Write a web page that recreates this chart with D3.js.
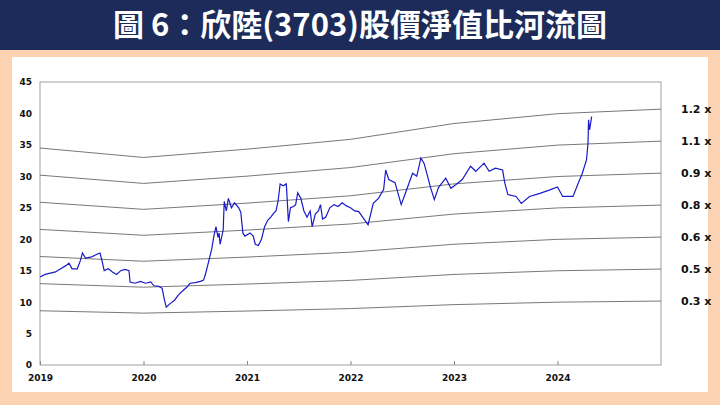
<!DOCTYPE html>
<html lang="zh-Hant">
<head>
<meta charset="utf-8">
<script src="https://cdn.jsdelivr.net/npm/d3@7"></script>
<style>
  body { margin: 0; background: #fbd3b2; }
  svg { display: block; }
</style>
</head>
<body>
<script>
  // Price (decimal year, close)
  var priceDates = [2019.00, 2019.05, 2019.10, 2019.15, 2019.20, 2019.25, 2019.28, 2019.31, 2019.36, 2019.39, 2019.41, 2019.44, 2019.50, 2019.55, 2019.58, 2019.60, 2019.62, 2019.66, 2019.70, 2019.74, 2019.78, 2019.82, 2019.86, 2019.87, 2019.92, 2019.97,
    2020.02, 2020.07, 2020.10, 2020.15, 2020.18, 2020.20, 2020.22, 2020.26, 2020.30, 2020.34, 2020.38, 2020.42, 2020.45, 2020.50, 2020.55, 2020.58, 2020.60, 2020.63, 2020.66, 2020.68, 2020.70, 2020.72, 2020.73, 2020.74, 2020.77, 2020.78, 2020.80, 2020.82, 2020.85, 2020.88, 2020.92, 2020.94, 2020.96, 2020.98,
    2021.03, 2021.06, 2021.08, 2021.11, 2021.14, 2021.17, 2021.20, 2021.23, 2021.26, 2021.28, 2021.30, 2021.32, 2021.35, 2021.38, 2021.40, 2021.42, 2021.45, 2021.47, 2021.49, 2021.52, 2021.55, 2021.58, 2021.61, 2021.63, 2021.66, 2021.69, 2021.71, 2021.73, 2021.76, 2021.80, 2021.84, 2021.88, 2021.92, 2021.96,
    2022.00, 2022.04, 2022.08, 2022.17, 2022.22, 2022.27, 2022.32, 2022.34, 2022.37, 2022.43, 2022.49, 2022.53, 2022.60, 2022.64, 2022.68, 2022.71, 2022.74, 2022.77, 2022.81, 2022.85, 2022.92, 2022.97,
    2023.02, 2023.08, 2023.16, 2023.21, 2023.29, 2023.34, 2023.40, 2023.47, 2023.49, 2023.52, 2023.60, 2023.65, 2023.73, 2023.83, 2023.92,
    2024.00, 2024.05, 2024.15, 2024.20, 2024.24, 2024.28, 2024.295, 2024.30, 2024.31, 2024.33];
  var priceValues = [14.0, 14.4, 14.6, 14.8, 15.3, 15.8, 16.2, 15.3, 15.3, 16.6, 17.8, 17.0, 17.2, 17.6, 17.8, 16.5, 15.0, 15.3, 14.8, 14.4, 15.0, 15.2, 15.0, 13.2, 13.0, 13.3,
    13.0, 13.2, 12.6, 12.5, 12.2, 10.5, 9.2, 9.8, 10.3, 11.2, 11.8, 12.4, 13.0, 13.1, 13.3, 13.5, 14.5, 16.5, 18.5, 20.5, 22.0, 20.3, 21.0, 19.2, 21.5, 26.0, 24.5, 26.5, 25.0, 25.8, 25.0, 24.3, 21.0, 20.5,
    21.0, 20.5, 19.2, 19.0, 20.0, 22.0, 23.0, 23.5, 24.2, 24.5, 26.0, 28.8, 28.5, 28.8, 22.8, 25.0, 25.2, 25.5, 27.4, 26.5, 24.5, 23.5, 24.5, 22.0, 24.0, 24.5, 25.5, 23.2, 23.5, 25.0, 25.5, 25.2, 25.8, 25.3,
    25.0, 24.5, 24.4, 22.3, 25.7, 26.5, 27.9, 31.0, 29.5, 29.0, 25.5, 27.3, 30.5, 30.0, 32.9, 32.1, 30.3, 28.4, 26.3, 28.2, 29.7, 28.1,
    28.7, 29.5, 31.6, 30.8, 32.1, 30.8, 31.3, 31.0, 29.0, 27.1, 26.8, 25.7, 26.8, 27.3, 27.8,
    28.3, 26.8, 26.8, 28.9, 30.5, 32.6, 35.3, 39.0, 37.4, 39.5];

  // Book value per share at year knots
  var bpsDates = [2019, 2020, 2021, 2022, 2023, 2024, 2025];
  var bpsValues = [28.75, 27.5, 28.6, 29.9, 32.0, 33.3, 33.9];

  var multiples = [1.2, 1.05, 0.9, 0.75, 0.6, 0.45, 0.3];
  var multipleLabels = ["1.2 x", "1.1 x", "0.9 x", "0.8 x", "0.6 x", "0.5 x", "0.3 x"];
  var yearTicks = [2019, 2020, 2021, 2022, 2023, 2024];
  var yTicks = [0, 5, 10, 15, 20, 25, 30, 35, 40, 45];

  var W = 720, H = 405;
  var plotL = 40, plotR = 661, plotT = 82, plotB = 365;

  var svg = d3.select("body").append("svg").attr("width", W).attr("height", H);

  // panels
  svg.append("rect").attr("x", 0).attr("y", 0).attr("width", W).attr("height", 50).attr("fill", "#1c2b5a");
  svg.append("rect").attr("x", 12).attr("y", 57).attr("width", 696).attr("height", 335).attr("fill", "#fff");

  svg.append("text")
    .attr("x", W / 2).attr("y", 36)
    .attr("text-anchor", "middle")
    .attr("font-family", "'Noto Sans CJK TC', sans-serif")
    .attr("font-weight", "bold").attr("font-size", 31)
    .attr("fill", "#fff")
    .text("圖 6：欣陸(3703)股價淨值比河流圖");

  var x = d3.scaleLinear().domain([2019, 2025]).range([plotL, plotR]);
  var y = d3.scaleLinear().domain([0, 45]).range([plotB, plotT]);

  // plot frame
  svg.append("rect").attr("x", plotL).attr("y", plotT).attr("width", plotR - plotL).attr("height", plotB - plotT)
    .attr("fill", "none").attr("stroke", "#888").attr("stroke-width", 0.8);

  var font = "'DejaVu Sans', sans-serif";

  var yAxis = svg.append("g").attr("transform", "translate(" + plotL + ",0)")
    .call(d3.axisLeft(y).tickValues(yTicks).tickSize(0).tickPadding(8));
  var xAxis = svg.append("g").attr("transform", "translate(0," + plotB + ")")
    .call(d3.axisBottom(x).tickValues(yearTicks).tickFormat(d3.format("d")).tickSize(-4).tickPadding(10));
  [xAxis, yAxis].forEach(function (g) {
    g.select(".domain").remove();
    g.selectAll("line").attr("stroke", "#888");
    g.selectAll("text").attr("font-family", font).attr("font-weight", "bold").attr("font-size", 9).attr("fill", "#111");
  });

  // river bands
  var bps = bpsDates.map(function (d, i) { return { t: d, v: bpsValues[i] }; });
  multiples.forEach(function (m, k) {
    svg.append("path")
      .datum(bps)
      .attr("fill", "none").attr("stroke", "#555").attr("stroke-width", 0.8)
      .attr("d", d3.line().x(function (d) { return x(d.t); }).y(function (d) { return y(d.v * m); }));
    svg.append("text")
      .attr("x", 681).attr("y", y(bpsValues[bpsValues.length - 1] * m) + 4)
      .attr("font-family", font).attr("font-weight", "bold").attr("font-size", 11).attr("fill", "#111")
      .text(multipleLabels[k]);
  });

  // price line
  var price = priceDates.map(function (d, i) { return { t: d, v: priceValues[i] }; });
  svg.append("path")
    .datum(price)
    .attr("fill", "none").attr("stroke", "#1a1ac8").attr("stroke-width", 1.2)
    .attr("d", d3.line().x(function (d) { return x(d.t); }).y(function (d) { return y(d.v); }));
</script>
</body>
</html>
